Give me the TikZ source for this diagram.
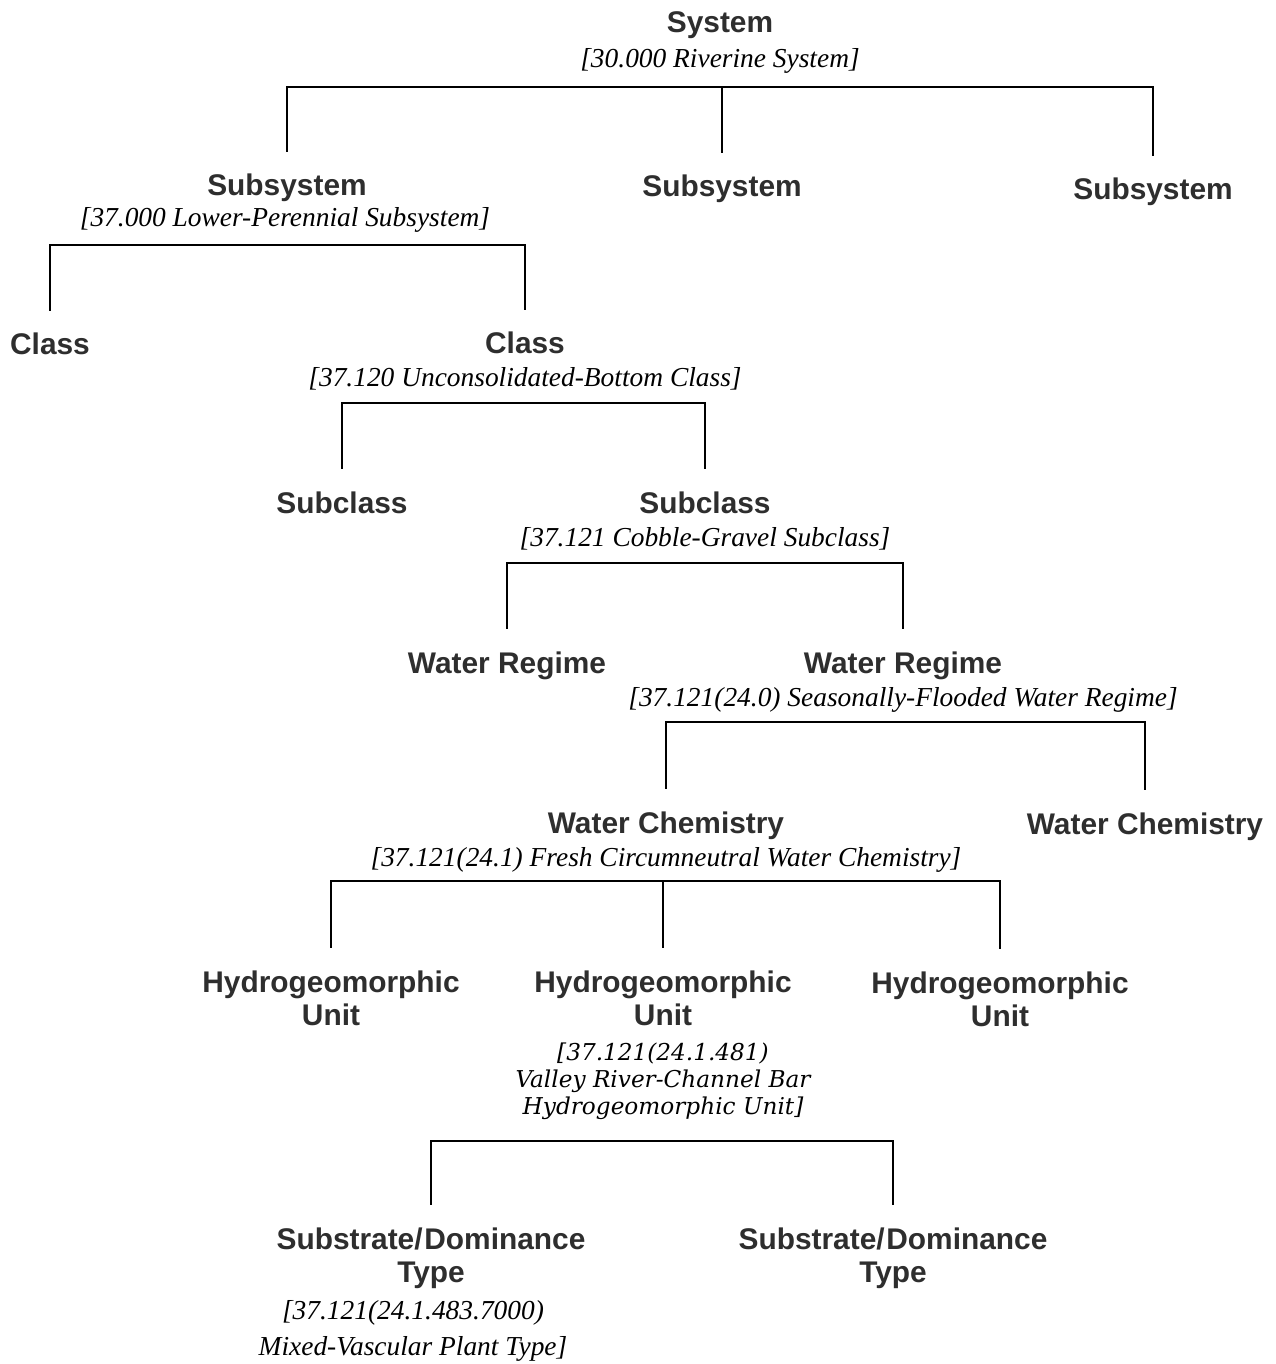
\documentclass[tikz,border=0pt]{standalone}
\usepackage{fontspec}
\setmainfont{Liberation Serif}
\newfontfamily\headfont{Liberation Sans}
\newfontfamily\unitfont{DejaVu Serif}
\usetikzlibrary{positioning}
\definecolor{ink}{HTML}{2E2E2E}

\begin{document}
\begin{tikzpicture}[x=0.02cm,y=-0.02cm,
        level/.style={font=\headfont\bfseries\fontsize{17}{18.7}\selectfont,text=ink,align=center,outer ysep=9.6pt},
        info/.style={font=\itshape\fontsize{15.6}{17}\selectfont,align=center},
        bracket/.style={line width=1.1pt}]
        \useasboundingbox (0,0) rectangle (1275,1364);

        % system
        \node[level,anchor=base] at (720,33) (sys) {System};
        \node[info,anchor=base] at (720,68) (sysinfo) {[30.000 Riverine System]};
        \coordinate (b1) at (720,87);

        % subsystems
        \node[level,anchor=base] at (287,196) (subL) {Subsystem};
        \node[info,anchor=base] at (285,227) (subLinfo) {[37.000 Lower-Perennial Subsystem]};
        \node[level,anchor=base] at (722,197) (subM) {Subsystem};
        \node[level,anchor=base] at (1153,200) (subR) {Subsystem};
        \coordinate (b2) at (285,245);

        % classes
        \node[level,anchor=base] at (50,355) (clsL) {Class};
        \node[level,anchor=base] at (525,354) (clsR) {Class};
        \node[info,anchor=base] at (525,387) (clsRinfo) {[37.120 Unconsolidated-Bottom Class]};
        \coordinate (b3) at (525,403);

        % subclasses
        \node[level,anchor=base] at (342,513) (sbcL) {Subclass};
        \node[level,anchor=base] at (705,513) (sbcR) {Subclass};
        \node[info,anchor=base] at (705,546) (sbcRinfo) {[37.121 Cobble-Gravel Subclass]};
        \coordinate (b4) at (705,563);

        % water regimes
        \node[level,anchor=base] at (507,673) (wrL) {Water Regime};
        \node[level,anchor=base] at (903,673) (wrR) {Water Regime};
        \node[info,anchor=base] at (903,706) (wrRinfo) {[37.121(24.0) Seasonally-Flooded Water Regime]};
        \coordinate (b5) at (903,722);

        % water chemistry
        \node[level,anchor=base] at (666,833) (wcL) {Water Chemistry};
        \node[level,anchor=base] at (1145,834) (wcR) {Water Chemistry};
        \node[info,anchor=base] at (666,866) (wcLinfo) {[37.121(24.1) Fresh Circumneutral Water Chemistry]};
        \coordinate (b6) at (666,881);

        % hydrogeomorphic units
        \node[level] at (331,998) (huL) {Hydrogeomorphic\\Unit};
        \node[level] at (663,998) (huM) {Hydrogeomorphic\\Unit};
        \node[level] at (1000,999) (huR) {Hydrogeomorphic\\Unit};
        \node[info,font=\unitfont\itshape\fontsize{13.2}{15.3}\selectfont] at (663,1081) (huMinfo)
                {[37.121(24.1.481)\\Valley River-Channel Bar\\Hydrogeomorphic Unit]};
        \coordinate (b7) at (663,1141);

        % substrate / dominance types
        \node[level] at (431,1258) (sdL) {Substrate/\kern1pt Dominance\\Type};
        \node[level] at (893,1258) (sdR) {Substrate/\kern1pt Dominance\\Type};
        \node[info,font=\itshape\fontsize{15.6}{20.4}\selectfont] at (413,1331) (sdLinfo)
                {[37.121(24.1.483.7000)\\Mixed-Vascular Plant Type]};

        \draw[bracket] (subL.north) |- (b1) -| (subR.north);
        \draw[bracket] (b1 -| subM.north) -- (subM.north);
        \draw[bracket] (clsL.north) |- (b2) -| (clsR.north);
        \draw[bracket] (sbcL.north) |- (b3) -| (sbcR.north);
        \draw[bracket] (wrL.north) |- (b4) -| (wrR.north);
        \draw[bracket] (wcL.north) |- (b5) -| (wcR.north);
        \draw[bracket] (huL.north) |- (b6) -| (huR.north);
        \draw[bracket] (b6 -| huM.north) -- (huM.north);
        \draw[bracket] (sdL.north) |- (b7) -| (sdR.north);
    \end{tikzpicture}
\end{document}
